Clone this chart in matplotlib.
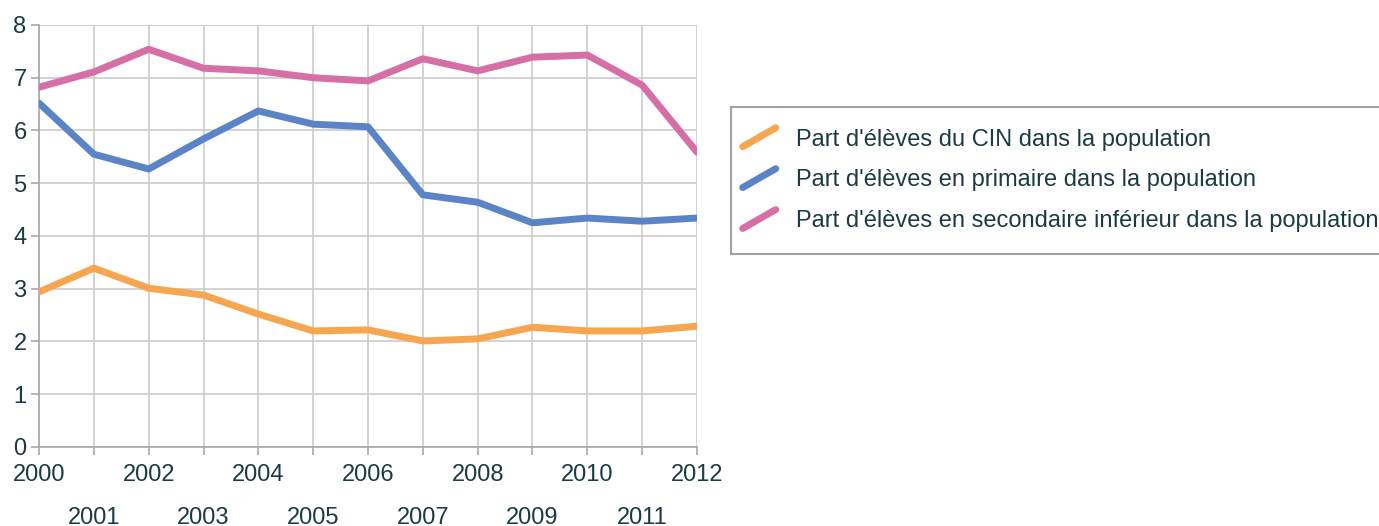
import numpy as np
import matplotlib.pyplot as plt
from matplotlib.lines import Line2D
from matplotlib.legend_handler import HandlerBase

years = list(range(2000, 2013))
cin = [2.94, 3.39, 3.01, 2.88, 2.52, 2.20, 2.22, 2.01, 2.05, 2.27, 2.20, 2.20, 2.29]
primaire = [6.52, 5.55, 5.27, 5.84, 6.37, 6.12, 6.07, 4.78, 4.64, 4.25, 4.34, 4.28, 4.34]
secondaire = [6.82, 7.11, 7.54, 7.18, 7.13, 7.00, 6.94, 7.36, 7.13, 7.39, 7.43, 6.86, 5.59]
labels = ["Part d'élèves du CIN dans la population",
          "Part d'élèves en primaire dans la population",
          "Part d'élèves en secondaire inférieur dans la population"]
colors = ['#f5a64f', '#5a84c5', '#d66fa5']

txt = '#1b3b42'
plt.rcParams['font.family'] = ['Liberation Sans', 'DejaVu Sans']


class DiagHandler(HandlerBase):
    # short slanted line like the original legend keys
    def create_artists(self, legend, orig_handle, xdescent, ydescent,
                       width, height, fontsize, trans):
        x0 = -xdescent - 0.42 * fontsize
        x1 = x0 + 1.4 * fontsize
        yc = -ydescent + height / 2
        l = Line2D([x0, x1], [yc - 0.4 * fontsize, yc + 0.4 * fontsize],
                   color=orig_handle.get_color(), lw=orig_handle.get_linewidth(),
                   solid_capstyle='round', transform=trans)
        return [l]


fig = plt.figure(figsize=(13.79, 5.26), dpi=100)
ax = fig.add_axes([0.0283, 0.1502, 0.4771, 0.8023])

lines = []
for vals, lab, c in zip([cin, primaire, secondaire], labels, colors):
    ln, = ax.plot(years, vals, color=c, lw=5, label=lab,
                  solid_capstyle='round', solid_joinstyle='round', zorder=3)
    lines.append(ln)

ax.set_xlim(2000, 2012)
ax.set_ylim(0, 8)
ax.set_yticks(range(0, 9))
ax.set_xticks(years[::2])
ax.set_xticks(years[1::2], minor=True)
ax.set_xticklabels([str(y) for y in years[::2]])
ax.set_xticklabels([str(y) for y in years[1::2]], minor=True)

ax.grid(True, which='both', color='#cccccc', lw=1.2, zorder=0)
for s in ['top', 'right']:
    ax.spines[s].set_visible(False)
for s in ['left', 'bottom']:
    ax.spines[s].set_color('#a8a8a8')
    ax.spines[s].set_linewidth(1.2)

fs = 17
ax.tick_params(axis='y', which='both', length=6, color='#a8a8a8', width=1.2,
               labelsize=fs, labelcolor=txt, pad=3)
ax.tick_params(axis='x', which='major', length=6, color='#a8a8a8', width=1.2,
               labelsize=fs, labelcolor=txt, pad=6)
ax.tick_params(axis='x', which='minor', length=6, color='#a8a8a8', width=1.2,
               labelsize=fs, labelcolor=txt, pad=37)

leg = fig.legend(handles=lines, labels=labels, loc='upper left',
                 bbox_to_anchor=(0.530, 0.797), borderaxespad=0,
                 handler_map={Line2D: DiagHandler()},
                 fontsize=fs, frameon=True, fancybox=False,
                 edgecolor='#8a8a8a', handlelength=1.0, handletextpad=0.82,
                 labelspacing=0.8, borderpad=0.92)
leg.get_frame().set_linewidth(1.5)
for t in leg.get_texts():
    t.set_color(txt)

fig.savefig('out.png', dpi=100)
